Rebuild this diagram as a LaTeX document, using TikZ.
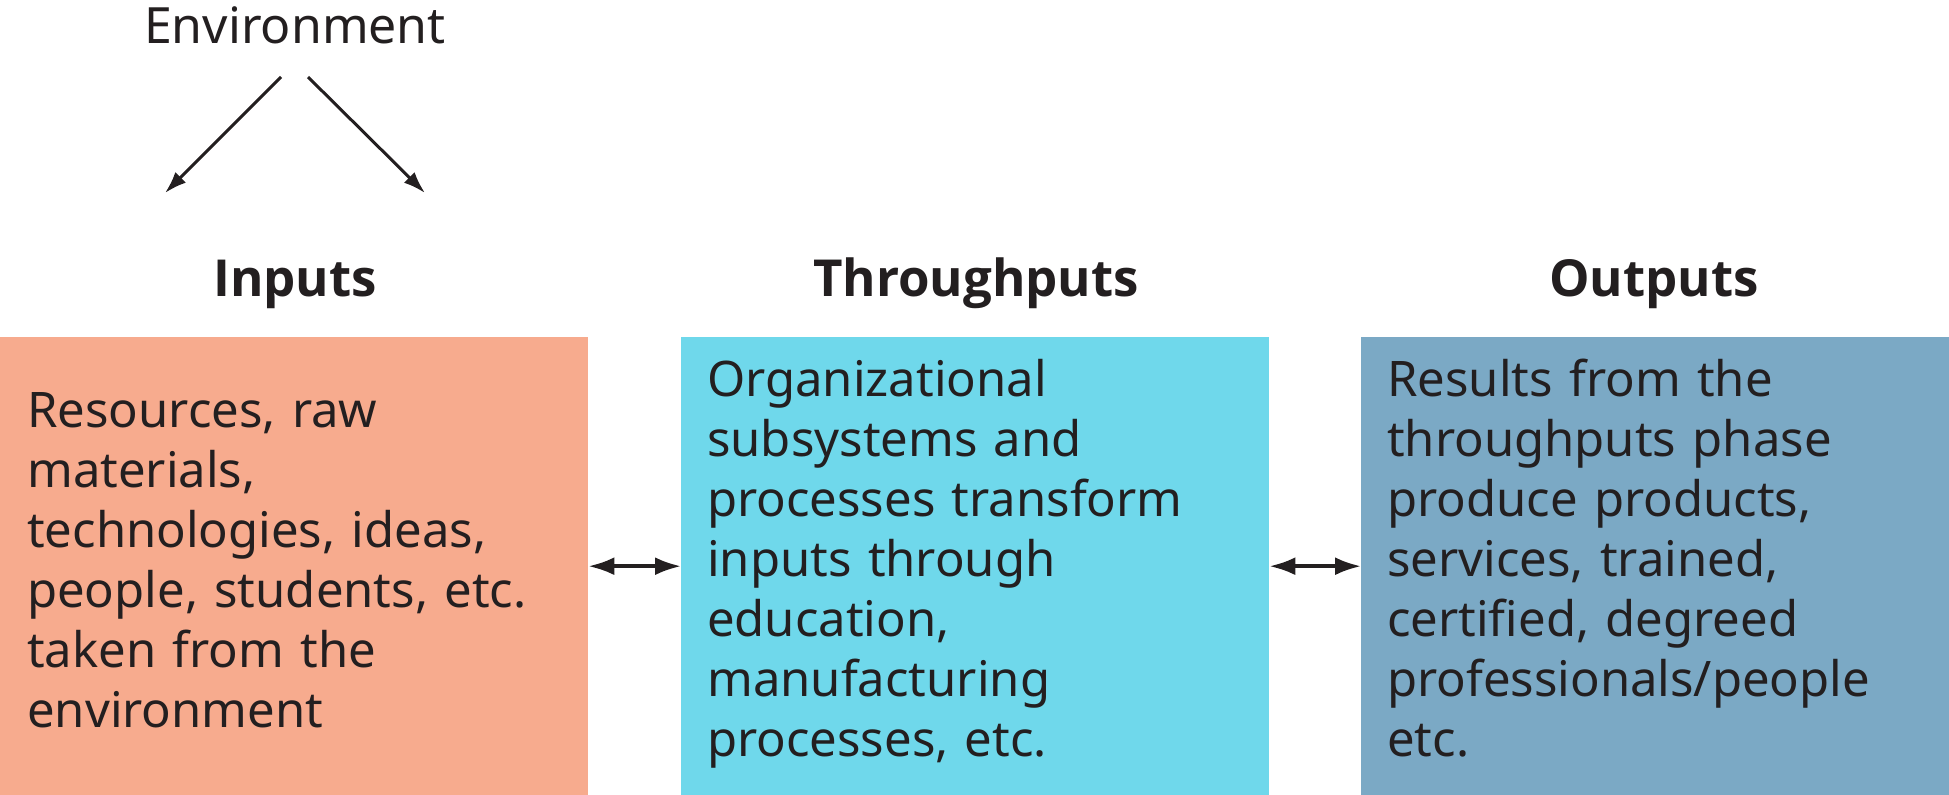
\documentclass[tikz,border=0pt]{standalone}
\usepackage{fontspec}
\setmainfont{Noto Sans}
\newfontfamily\titlefont{Open Sans}
\usetikzlibrary{arrows.meta}
\definecolor{inC}{HTML}{F7AB8E}
\definecolor{thC}{HTML}{6FD8EB}
\definecolor{outC}{HTML}{7BA9C5}
\definecolor{ink}{HTML}{231F20}
\begin{document}
\begin{tikzpicture}[x=1pt,y=-1pt,
  box/.style={rectangle, inner sep=0pt, minimum width=588pt, minimum height=458pt, anchor=north west},
  boxtext/.style={inner sep=0pt, text width=536pt, align=left, anchor=base west, text=ink,
    font=\fontsize{49}{60}\selectfont},
  title/.style={anchor=base, text=ink, inner sep=0pt, font=\titlefont\fontsize{51}{60}\selectfont\bfseries},
  envarrow/.style={draw=ink, line width=3pt, -{Latex[length=22pt,width=15pt]}},
  dbl/.style={draw=ink, line width=3.5pt, {Latex[length=26pt,width=18pt]}-{Latex[length=26pt,width=18pt]}}]
\useasboundingbox (0,0) rectangle (1949,795);
\node[box, fill=inC] (in) at (0,337) {};
\node[box, fill=thC] (th) at (681,337) {};
\node[box, fill=outC] (out) at (1361,337) {};
\node[boxtext] (intext) at (27,427) {Resources, raw\\ materials,\\ technologies, ideas,\\ people, students, etc.\\ taken from the\\ environment};
\node[boxtext] (thtext) at (707,396) {Organizational\\ subsystems and\\ processes transform\\ inputs through\\ education,\\ manufacturing\\ processes, etc.};
\node[boxtext] (outtext) at (1387,396) {Results from the\\ throughputs phase\\ produce products,\\ services, trained,\\ certified, degreed\\ professionals/people\\ etc.};
\node[title] (tin) at (295,296) {Inputs};
\node[title] (tth) at (976,296) {Throughputs};
\node[title] (tout) at (1654,296) {Outputs};
\node[anchor=base, text=ink, inner sep=0pt, font=\fontsize{50}{60}\selectfont] (env) at (295,43) {Environment};
\coordinate (ls) at (281,77);
\coordinate (le) at (165,193);
\coordinate (rs) at (308,77);
\coordinate (re) at (425,193);
\draw[envarrow] (ls) -- (le);
\draw[envarrow] (rs) -- (re);
\draw[dbl] (in.east) -- (th.west);
\draw[dbl] (th.east) -- (out.west);
\end{tikzpicture}
\end{document}
